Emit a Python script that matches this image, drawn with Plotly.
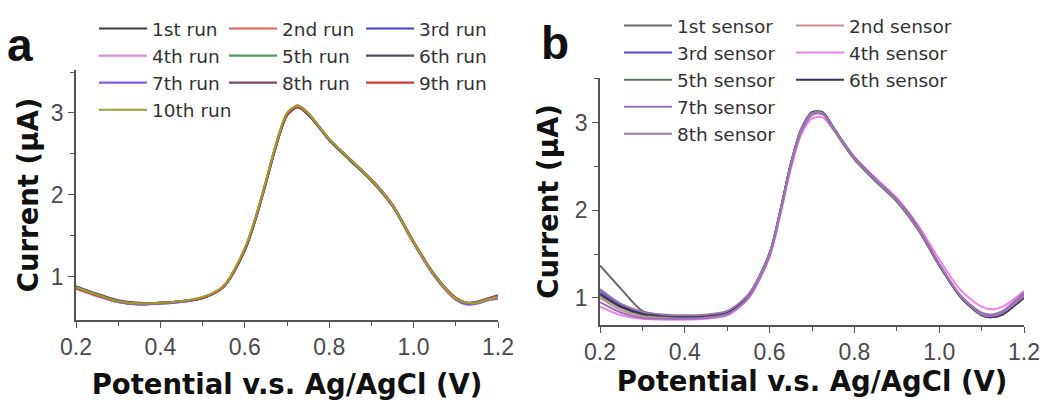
import plotly.graph_objects as go

# ---------------- data ----------------
potential = [0.2, 0.25, 0.3, 0.35, 0.4, 0.45, 0.5, 0.55, 0.6, 0.625, 0.65, 0.675, 0.7, 0.725,
             0.75, 0.775, 0.8, 0.85, 0.9, 0.95, 1.0, 1.05, 1.1, 1.125, 1.15, 1.175, 1.2]

run_names = ["1st run", "2nd run", "3rd run", "4th run", "5th run",
             "6th run", "7th run", "8th run", "9th run", "10th run"]
run1 = [0.88, 0.78, 0.70, 0.67, 0.68, 0.70, 0.74, 0.88, 1.33, 1.70, 2.15, 2.62, 2.98, 3.08, 2.99, 2.84, 2.68, 2.43, 2.18, 1.87, 1.42, 1.01, 0.73, 0.67, 0.68, 0.72, 0.76]
run2 = [0.86, 0.77, 0.69, 0.67, 0.68, 0.70, 0.74, 0.88, 1.32, 1.69, 2.14, 2.61, 2.97, 3.07, 2.98, 2.83, 2.67, 2.42, 2.17, 1.86, 1.41, 1.00, 0.72, 0.67, 0.68, 0.73, 0.77]
run3 = [0.87, 0.77, 0.69, 0.66, 0.67, 0.69, 0.74, 0.88, 1.33, 1.70, 2.16, 2.63, 2.99, 3.08, 2.99, 2.83, 2.67, 2.42, 2.17, 1.86, 1.42, 1.01, 0.73, 0.68, 0.69, 0.72, 0.75]
run4 = [0.85, 0.76, 0.69, 0.67, 0.68, 0.70, 0.75, 0.89, 1.34, 1.71, 2.16, 2.63, 2.99, 3.09, 3.00, 2.84, 2.68, 2.43, 2.18, 1.87, 1.42, 1.01, 0.73, 0.68, 0.68, 0.72, 0.74]
run5 = [0.86, 0.78, 0.70, 0.67, 0.68, 0.70, 0.74, 0.88, 1.33, 1.71, 2.16, 2.62, 2.98, 3.08, 2.99, 2.83, 2.67, 2.42, 2.17, 1.87, 1.42, 1.02, 0.74, 0.68, 0.69, 0.73, 0.76]
run6 = [0.88, 0.79, 0.71, 0.68, 0.68, 0.70, 0.74, 0.88, 1.32, 1.69, 2.14, 2.61, 2.97, 3.07, 2.98, 2.83, 2.67, 2.42, 2.18, 1.87, 1.42, 1.01, 0.73, 0.67, 0.68, 0.73, 0.77]
run7 = [0.86, 0.77, 0.69, 0.66, 0.67, 0.69, 0.74, 0.88, 1.33, 1.70, 2.15, 2.62, 2.98, 3.08, 2.99, 2.84, 2.68, 2.43, 2.18, 1.86, 1.41, 1.00, 0.72, 0.66, 0.67, 0.71, 0.73]
run8 = [0.87, 0.78, 0.70, 0.67, 0.68, 0.70, 0.74, 0.88, 1.33, 1.70, 2.15, 2.62, 2.98, 3.09, 3.00, 2.84, 2.68, 2.43, 2.18, 1.87, 1.42, 1.01, 0.73, 0.68, 0.69, 0.73, 0.76]
run9 = [0.86, 0.77, 0.70, 0.67, 0.68, 0.70, 0.74, 0.88, 1.33, 1.70, 2.15, 2.62, 2.98, 3.08, 2.99, 2.84, 2.68, 2.43, 2.19, 1.88, 1.43, 1.02, 0.74, 0.68, 0.69, 0.73, 0.77]
run10 = [0.87, 0.78, 0.70, 0.67, 0.68, 0.70, 0.75, 0.89, 1.35, 1.72, 2.17, 2.64, 3.00, 3.09, 3.00, 2.84, 2.68, 2.43, 2.18, 1.87, 1.42, 1.01, 0.73, 0.68, 0.68, 0.72, 0.75]
runs = [run1, run2, run3, run4, run5, run6, run7, run8, run9, run10]
run_colors = ["#3a3a3a", "#e06060", "#4040d0", "#d890d8", "#4f9a5a",
              "#4a5060", "#8060e0", "#7a4a6a", "#d03a3a", "#9aa030"]

sensor_names = ["1st sensor", "2nd sensor", "3rd sensor", "4th sensor",
                "5th sensor", "6th sensor", "7th sensor", "8th sensor"]
sensor1 = [1.37, 1.10, 0.85, 0.80, 0.79, 0.80, 0.84, 1.03, 1.50, 1.98, 2.52, 2.93, 3.11, 3.11, 2.94, 2.76, 2.59, 2.34, 2.11, 1.79, 1.38, 1.02, 0.81, 0.79, 0.83, 0.92, 1.02]
sensor2 = [1.00, 0.86, 0.79, 0.77, 0.77, 0.78, 0.82, 1.01, 1.49, 1.97, 2.51, 2.91, 3.09, 3.10, 2.93, 2.75, 2.58, 2.33, 2.10, 1.78, 1.37, 1.02, 0.82, 0.80, 0.84, 0.93, 1.04]
sensor3 = [1.08, 0.92, 0.83, 0.80, 0.79, 0.80, 0.84, 1.03, 1.51, 1.99, 2.53, 2.93, 3.11, 3.11, 2.94, 2.76, 2.59, 2.34, 2.11, 1.79, 1.38, 1.02, 0.81, 0.78, 0.82, 0.91, 1.01]
sensor4 = [0.90, 0.80, 0.76, 0.75, 0.75, 0.76, 0.80, 0.99, 1.47, 1.94, 2.47, 2.87, 3.05, 3.06, 2.92, 2.76, 2.61, 2.37, 2.14, 1.83, 1.44, 1.09, 0.90, 0.87, 0.90, 0.98, 1.08]
sensor5 = [1.03, 0.89, 0.81, 0.79, 0.78, 0.79, 0.83, 1.02, 1.50, 1.98, 2.52, 2.92, 3.10, 3.10, 2.93, 2.75, 2.58, 2.33, 2.10, 1.78, 1.37, 1.02, 0.82, 0.80, 0.84, 0.93, 1.03]
sensor6 = [1.05, 0.90, 0.82, 0.80, 0.79, 0.80, 0.84, 1.03, 1.51, 1.99, 2.53, 2.93, 3.12, 3.12, 2.95, 2.77, 2.60, 2.35, 2.12, 1.80, 1.38, 1.01, 0.80, 0.78, 0.81, 0.90, 1.00]
sensor7 = [0.95, 0.83, 0.77, 0.76, 0.76, 0.77, 0.81, 1.00, 1.48, 1.96, 2.50, 2.90, 3.09, 3.10, 2.94, 2.77, 2.60, 2.35, 2.12, 1.80, 1.39, 1.03, 0.83, 0.81, 0.85, 0.95, 1.06]
sensor8 = [1.10, 0.93, 0.84, 0.81, 0.80, 0.81, 0.85, 1.04, 1.51, 1.99, 2.53, 2.93, 3.11, 3.11, 2.94, 2.76, 2.59, 2.34, 2.11, 1.79, 1.38, 1.02, 0.81, 0.79, 0.83, 0.92, 1.02]
sensors = [sensor1, sensor2, sensor3, sensor4, sensor5, sensor6, sensor7, sensor8]
sensor_colors = ["#6a6a6a", "#c89090", "#5a48d0", "#f080f0",
                 "#5a7a5a", "#35305a", "#a070c0", "#9a78a8"]

x_ticks = [0.2, 0.4, 0.6, 0.8, 1.0, 1.2]
x_ticktext = ["0.2", "0.4", "0.6", "0.8", "1.0", "1.2"]
y_ticks = [1, 2, 3]

# ---------------- figure ----------------
FONT = "Liberation Sans, Arial, sans-serif"
TFONT = "DejaVu Sans, Verdana, sans-serif"
fig = go.Figure()

run_legends = ["legend", "legend2", "legend3"] * 4
for i, (name, ys, col) in enumerate(zip(run_names, runs, run_colors)):
    fig.add_trace(go.Scatter(x=potential, y=ys, name=name, mode="lines",
                             line=dict(color=col, width=2.1, shape="spline", smoothing=0.8),
                             xaxis="x", yaxis="y", legend=run_legends[i]))

sensor_legends = ["legend4", "legend5", "legend4", "legend5", "legend4", "legend5", "legend4", "legend4"]
for i, (name, ys, col) in enumerate(zip(sensor_names, sensors, sensor_colors)):
    fig.add_trace(go.Scatter(x=potential, y=ys, name=name, mode="lines",
                             line=dict(color=col, width=2.0, shape="spline", smoothing=0.8),
                             xaxis="x2", yaxis="y2", legend=sensor_legends[i]))

OFF = 8                      # page offset of the plot div
W, H = 1050 - OFF, 406 - OFF

def px(p):
    return (p - OFF) / W

def py(p):
    return 1 - (p - OFF) / H

def xdom(p0, p1):
    return [px(p0), px(p1)]

def ydom(ptop, pbot):
    return [py(pbot), py(ptop)]

axis_common = dict(showline=True, linecolor="#555555", linewidth=1.5, ticks="outside",
                   ticklen=6, tickwidth=1.3, tickcolor="#555555", showgrid=False, zeroline=False,
                   automargin=False,
                   tickfont=dict(family=FONT, size=23, color="#4a4a4a"))
title_font = dict(family=TFONT, size=27.5, color="#111111")
minor_x = dict(tickvals=[0.3, 0.5, 0.7, 0.9, 1.1], ticklen=4, tickcolor="#555555", ticks="outside")
minor_y = dict(tickvals=[1.5, 2.5, 3.5], ticklen=4, tickcolor="#555555", ticks="outside")

fig.update_layout(
    xaxis=dict(domain=xdom(76, 498), range=[0.2, 1.2], tickvals=x_ticks, ticktext=x_ticktext,
               minor=minor_x, anchor="y",
               title=dict(text="<b>Potential v.s. Ag/AgCl (V)</b>", font=title_font, standoff=15),
               **axis_common),
    yaxis=dict(domain=ydom(70, 320), range=[0.47, 3.525], tickvals=y_ticks,
               minor=minor_y, anchor="x",
               title=dict(text="<b>Current (μA)</b>", font=title_font, standoff=4),
               **axis_common),
    xaxis2=dict(domain=xdom(600, 1024), range=[0.2, 1.2], tickvals=x_ticks, ticktext=x_ticktext,
                minor=minor_x, anchor="y2",
                title=dict(text="<b>Potential v.s. Ag/AgCl (V)</b>", font=title_font, standoff=6),
                **axis_common),
    yaxis2=dict(domain=ydom(78, 325), range=[0.69, 3.51], tickvals=y_ticks,
                minor=minor_y, anchor="x2",
                title=dict(text="<b>Current (μA)</b>", font=title_font, standoff=8),
                **axis_common),
    width=W, height=H,
    margin=dict(l=0, r=0, t=0, b=0, autoexpand=False),
    paper_bgcolor="white", plot_bgcolor="white",
    font=dict(family=FONT),
    showlegend=True,
)

leg_common = dict(orientation="v", xanchor="left", yanchor="top", bgcolor="rgba(0,0,0,0)",
                  borderwidth=0, itemwidth=48, font=dict(family=TFONT, size=18.5, color="#333333"),
                  xref="paper", yref="paper")
legend_x = {"legend": 94, "legend2": 224, "legend3": 361, "legend4": 619, "legend5": 791}
legend_y = {"legend": 10, "legend2": 10, "legend3": 10, "legend4": 7, "legend5": 7}
for key in legend_x:
    fig.update_layout({key: dict(x=px(legend_x[key]), y=py(legend_y[key]), **leg_common)})

fig.add_annotation(text="<b>a</b>", x=px(20), y=py(45), xref="paper", yref="paper",
                   xanchor="center", yanchor="middle", showarrow=False,
                   font=dict(family=FONT, size=46, color="#111111"))
fig.add_annotation(text="<b>b</b>", x=px(555), y=py(43), xref="paper", yref="paper",
                   xanchor="center", yanchor="middle", showarrow=False,
                   font=dict(family=FONT, size=46, color="#111111"))

fig.write_html("out.html")
